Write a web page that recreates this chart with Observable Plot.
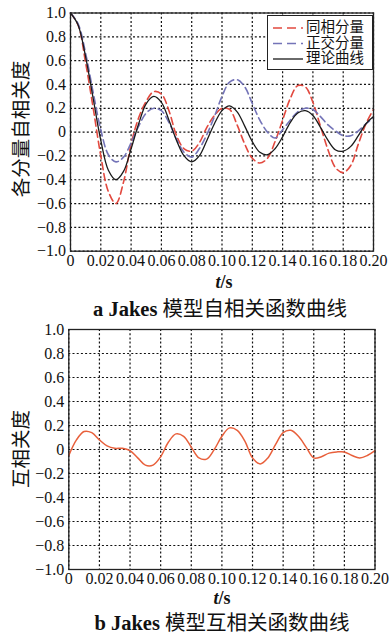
<!DOCTYPE html>
<html><head><meta charset="utf-8">
<script src="https://cdn.jsdelivr.net/npm/d3@7"></script>
<script src="https://cdn.jsdelivr.net/npm/@observablehq/plot@0.6"></script>
<style>
body{margin:0;background:#fff;}
#wrap{position:relative;width:389px;height:637px;overflow:hidden;background:#fff;}
.chart{position:absolute;left:0;}
.ylab{position:absolute;font-family:"Noto Sans CJK SC";font-size:19.5px;color:#111;transform:translate(-50%,-50%) rotate(-90deg);white-space:nowrap;line-height:20px;}
.tlab{position:absolute;font-family:"Liberation Serif";font-size:18px;font-weight:bold;color:#111;transform:translate(-50%,-50%);white-space:nowrap;}
.cap{position:absolute;font-family:"Liberation Serif","Noto Sans CJK SC";font-size:20.5px;color:#111;transform:translate(-50%,-50%);white-space:nowrap;line-height:22px;}
.cap b{font-family:"Liberation Serif";}
.legend{position:absolute;left:267px;top:15px;width:104px;height:53px;border:1.3px solid #222;background:#fff;z-index:5;}
.legend svg{position:absolute;left:4px;top:0px;}
.legend .ltext{position:absolute;left:38px;top:4.25px;font-family:"Liberation Serif","Noto Sans CJK SC";font-size:14.5px;line-height:15.5px;color:#111;white-space:nowrap;}
</style></head>
<body>
<div id="wrap"></div>
<script>
const t = [0,0.005,0.01,0.015,0.02,0.025,0.03,0.035,0.04,0.045,0.05,0.055,0.06,0.065,0.07,0.075,0.08,0.085,0.09,0.095,0.1,0.105,0.11,0.115,0.12,0.125,0.13,0.135,0.14,0.145,0.15,0.155,0.16,0.165,0.17,0.175,0.18,0.185,0.19,0.195,0.2];
const inPhase = [1.00,0.90,0.58,0.20,-0.20,-0.50,-0.60,-0.42,-0.10,0.12,0.26,0.34,0.32,0.18,-0.03,-0.14,-0.16,-0.09,0.04,0.14,0.20,0.19,0.06,-0.10,-0.22,-0.26,-0.22,-0.08,0.10,0.28,0.39,0.38,0.25,0.05,-0.15,-0.30,-0.34,-0.28,-0.10,0.07,0.19];
const quadrature = [1.00,0.91,0.66,0.33,0.02,-0.19,-0.25,-0.21,-0.09,0.05,0.16,0.20,0.18,0.08,-0.06,-0.17,-0.21,-0.14,-0.02,0.13,0.30,0.42,0.44,0.38,0.24,0.10,0.00,-0.05,0.02,0.10,0.17,0.20,0.19,0.13,0.06,0.01,-0.03,-0.03,0.01,0.07,0.12];
const theory = [1.00,0.90,0.63,0.28,-0.07,-0.32,-0.40,-0.33,-0.14,0.07,0.24,0.30,0.25,0.10,-0.07,-0.20,-0.25,-0.20,-0.07,0.07,0.18,0.22,0.17,0.05,-0.08,-0.17,-0.19,-0.14,-0.04,0.08,0.16,0.18,0.14,0.04,-0.07,-0.15,-0.16,-0.12,-0.03,0.07,0.13];
const cross = [-0.05,0.08,0.15,0.14,0.08,0.03,0.01,0.01,-0.01,-0.07,-0.13,-0.13,-0.06,0.06,0.13,0.11,0.02,-0.07,-0.08,0.00,0.11,0.18,0.16,0.07,-0.07,-0.12,-0.07,0.04,0.14,0.16,0.11,0.02,-0.07,-0.06,-0.03,-0.02,-0.02,-0.05,-0.07,-0.05,-0.01];
const xTicks = [0,0.02,0.04,0.06,0.08,0.1,0.12,0.14,0.16,0.18,0.2];
const yTicks = [-1,-0.8,-0.6,-0.4,-0.2,0,0.2,0.4,0.6,0.8,1];
const legendLabels = ["同相分量","正交分量","理论曲线"];
const yLabelA = "各分量自相关度";
const yLabelB = "互相关度";
const captionA = ["a Jakes", "模型自相关函数曲线"];
const captionB = ["b Jakes", "模型互相关函数曲线"];

const colors = {inPhase:"#e2493f", quadrature:"#7474b8", theory:"#1a1a1a", cross:"#e8603c"};
const dashes = {inPhase:"7,4", quadrature:"7,4", theory:null};

const rows = t.map((v,i)=>({t:v, inPhase:inPhase[i], quadrature:quadrature[i], theory:theory[i], cross:cross[i]}));
const xFmt = d => d===0 ? "0" : d.toFixed(2);
const yFmt = d => d===0 ? "0" : (d<0 ? "\u2212" : "") + Math.abs(d).toFixed(1);

const gridStyle = {stroke:"#111", strokeOpacity:1, strokeDasharray:"2,2.2", strokeWidth:1.2};

function base(opts, marks){
  return Plot.plot({
    width:389, height:opts.height,
    marginTop:opts.mt, marginBottom:opts.mb, marginLeft:opts.ml, marginRight:opts.mr,
    style:{fontFamily:"Liberation Serif", fontSize:"16px", color:"#111", background:"transparent", overflow:"visible"},
    x:{domain:[0,0.2], ticks:xTicks, tickFormat:xFmt, tickSize:0, tickPadding:3.5, label:null},
    y:{domain:[-1,1], ticks:yTicks, tickFormat:yFmt, tickSize:0, tickPadding:4.5, label:null},
    marks:[
      Plot.gridX(xTicks, gridStyle),
      Plot.gridY(yTicks, gridStyle),
      ...marks,
      Plot.frame({stroke:"#222", strokeWidth:1.3})
    ]
  });
}

const wrap = document.getElementById("wrap");

const c1 = base({height:275, mt:12.5, mb:24.3, ml:70, mr:16}, [
  Plot.line(rows,{x:"t", y:"inPhase", stroke:colors.inPhase, strokeWidth:1.6, strokeDasharray:dashes.inPhase, curve:"catmull-rom"}),
  Plot.line(rows,{x:"t", y:"quadrature", stroke:colors.quadrature, strokeWidth:1.6, strokeDasharray:dashes.quadrature, curve:"catmull-rom"}),
  Plot.line(rows,{x:"t", y:"theory", stroke:colors.theory, strokeWidth:1.3, curve:"catmull-rom"})
]);
c1.classList.add("chart"); c1.style.top = "0px";
wrap.appendChild(c1);

const c2 = base({height:275, mt:14, mb:21, ml:68.3, mr:14.5}, [
  Plot.line(rows,{x:"t", y:"cross", stroke:colors.cross, strokeWidth:1.5, curve:"catmull-rom"})
]);
c2.classList.add("chart"); c2.style.top = "315px";
wrap.appendChild(c2);

// legend: one swatch column and one text block
const leg = document.createElement("div");
leg.className = "legend";
const keys = ["inPhase","quadrature","theory"];
const ns = "http://www.w3.org/2000/svg";
const s = document.createElementNS(ns,"svg");
s.setAttribute("width","32"); s.setAttribute("height","53");
keys.forEach((k,i)=>{
  const yy = 12 + i*15.5;
  const ln = document.createElementNS(ns,"line");
  ln.setAttribute("x1","1"); ln.setAttribute("x2","31"); ln.setAttribute("y1",yy); ln.setAttribute("y2",yy);
  ln.setAttribute("stroke", colors[k]); ln.setAttribute("stroke-width", k==="theory" ? "1.3" : "1.6");
  if (dashes[k]) ln.setAttribute("stroke-dasharray", "9,5");
  s.appendChild(ln);
});
leg.appendChild(s);
const txt = document.createElement("div");
txt.className = "ltext";
txt.innerHTML = legendLabels.join("<br>");
leg.appendChild(txt);
wrap.appendChild(leg);

function addDiv(cls, html, x, y){
  const d = document.createElement("div");
  d.className = cls; d.innerHTML = html;
  d.style.left = x+"px"; d.style.top = y+"px";
  wrap.appendChild(d);
}
addDiv("ylab", yLabelA, 20, 129);
addDiv("ylab", yLabelB, 20, 449);
addDiv("tlab", "<i>t</i>/s", 224, 282);
addDiv("tlab", "<i>t</i>/s", 222, 598);
addDiv("cap", "<b>" + captionA[0] + "</b> " + captionA[1], 220, 309);
addDiv("cap", "<b>" + captionB[0] + "</b> " + captionB[1], 222, 623);
</script>
</body></html>
